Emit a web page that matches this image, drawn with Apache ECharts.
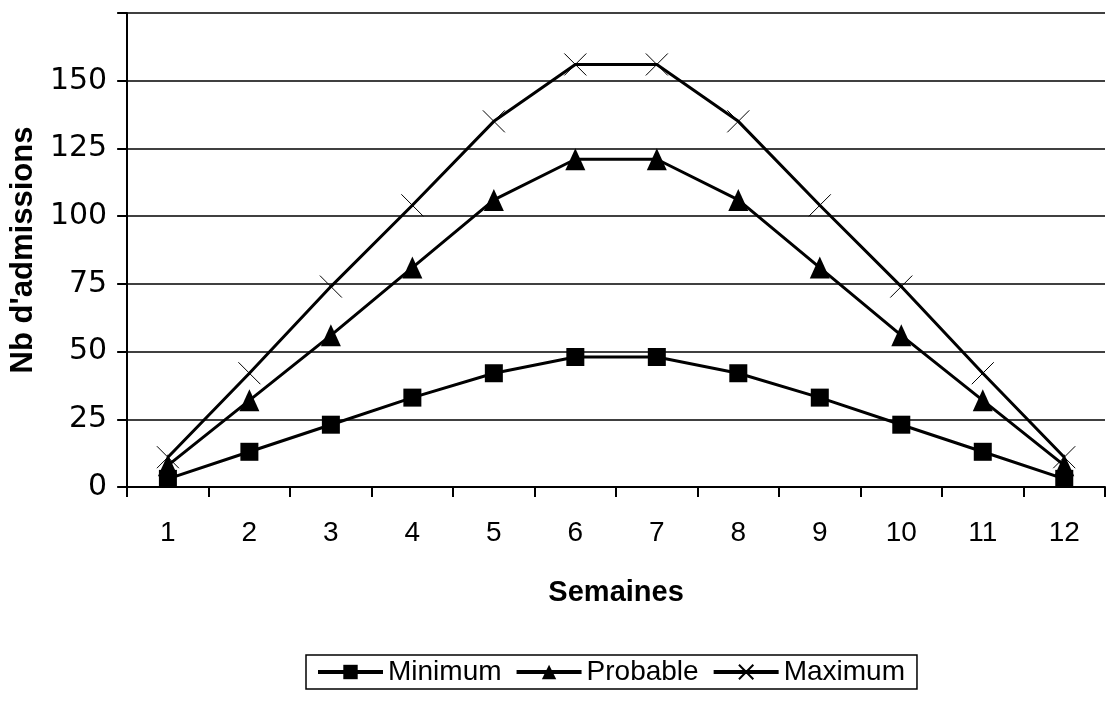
<!DOCTYPE html>
<html>
<head>
<meta charset="utf-8">
<script src="https://cdn.jsdelivr.net/npm/echarts@6/dist/echarts.min.js"></script>
<style>
html, body { margin: 0; padding: 0; background: #fff; }
#chart { width: 1107px; height: 702px; }
</style>
</head>
<body>
<div id="chart"></div>
<script>
var weeks = ['1', '2', '3', '4', '5', '6', '7', '8', '9', '10', '11', '12'];
var minimumData = [3, 13, 23, 33, 42, 48, 48, 42, 33, 23, 13, 3];
var probableData = [8, 32, 56, 81, 106, 121, 121, 106, 81, 56, 32, 8];
var maximumData = [11, 42, 74, 104, 135, 156, 156, 135, 104, 74, 42, 11];
var yTicks = [0, 25, 50, 75, 100, 125, 150];

var crossPath = 'path://M0,0L20,20M20,0L0,20';

function lineSeries(name, data, symbol, size, itemStyle) {
	return {
		name: name,
		type: 'line',
		data: data,
		symbol: symbol,
		symbolSize: size,
		showAllSymbol: true,
		lineStyle: { color: '#000', width: 3 },
		itemStyle: itemStyle,
		emphasis: { disabled: true }
	};
}

var chart = echarts.init(document.getElementById('chart'));
chart.setOption({
	backgroundColor: '#fff',
	animation: false,
	grid: { left: 123, right: 2, top: 13, bottom: 215, containLabel: false },
	xAxis: {
		type: 'category',
		data: weeks,
		boundaryGap: true,
		name: 'Semaines',
		nameLocation: 'middle',
		nameGap: 91,
		nameTextStyle: { fontFamily: 'Liberation Sans', fontWeight: 'bold', fontSize: 29, color: '#000' },
		axisLine: { lineStyle: { color: '#000', width: 2 } },
		axisTick: { show: true, interval: 0, length: 10, lineStyle: { color: '#000', width: 2 } },
		axisLabel: { margin: 32, fontFamily: 'Liberation Sans', fontSize: 28, color: '#000', interval: 0 }
	},
	yAxis: {
		type: 'value',
		min: 0,
		max: 175,
		interval: 25,
		name: "Nb d'admissions",
		nameLocation: 'middle',
		nameGap: 86,
		nameTextStyle: { fontFamily: 'Liberation Sans', fontWeight: 'bold', fontSize: 31, color: '#000' },
		axisLine: { show: true, lineStyle: { color: '#000', width: 2 } },
		axisTick: { show: true, length: 10, lineStyle: { color: '#000', width: 2 } },
		axisLabel: {
			margin: 20,
			fontFamily: 'DejaVu Sans',
			fontSize: 30,
			color: '#000',
			formatter: function(v) {
				return yTicks.indexOf(v) >= 0 ? String(v) : '';
			}
		},
		splitLine: { show: true, lineStyle: { color: '#000', width: 1.5 } }
	},
	legend: {
		top: 655,
		left: 306,
		itemWidth: 65,
		itemHeight: 18,
		itemGap: 13,
		padding: [3, 12, 3, 10],
		borderColor: '#000',
		borderWidth: 1.5,
		lineStyle: { width: 4, color: '#000' },
		textStyle: { fontFamily: 'Liberation Sans', fontSize: 28, color: '#000' },
		data: ['Minimum', 'Probable', 'Maximum']
	},
	series: [
		lineSeries('Minimum', minimumData, 'rect', 18, { color: '#000' }),
		lineSeries('Probable', probableData, 'triangle', [20, 22], { color: '#000' }),
		lineSeries('Maximum', maximumData, crossPath, 22, { color: '#000', borderColor: '#000', borderWidth: 1 })
	]
});
</script>
</body>
</html>
